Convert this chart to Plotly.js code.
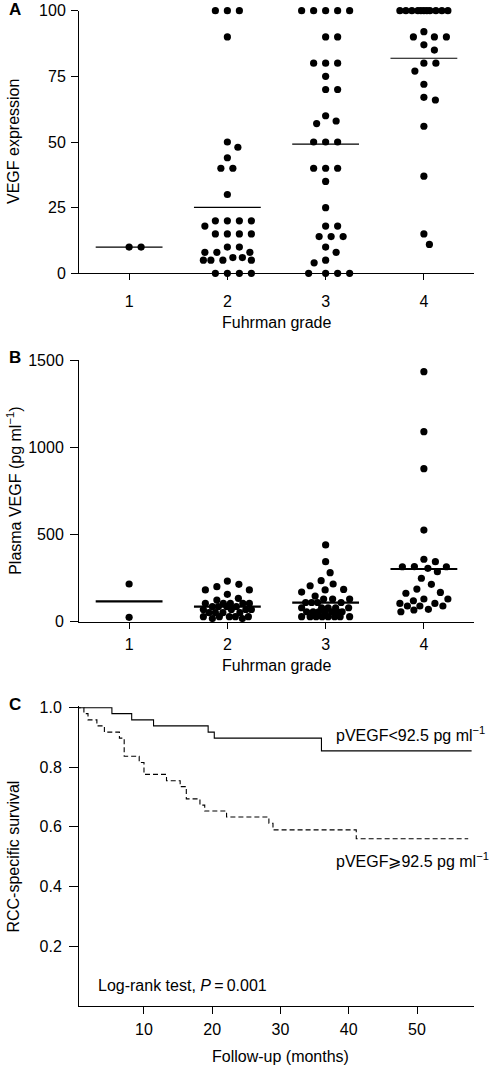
<!DOCTYPE html>
<html>
<head>
<meta charset="utf-8">
<script src="https://cdn.plot.ly/plotly-3.0.1.min.js"></script>
<style>html,body{margin:0;padding:0;background:#fff;}#chart{width:492px;height:1066px;}</style>
</head>
<body>
<div id="chart"></div>
<script>
// ---------- DATA ----------
const grades = [1, 2, 3, 4];
const gradeLabels = ['1', '2', '3', '4'];

// Panel A: tumour VEGF expression by Fuhrman grade
const vegfG1 = [10, 10];
const vegfG2 = [100, 100, 100, 90, 50, 48, 44, 40, 40, 30, 20, 20, 20, 20, 18, 15, 15, 15, 15, 10, 10, 8, 8, 8, 6, 6, 5, 5, 5, 5, 0, 0, 0, 0];
const vegfG3 = [100, 100, 100, 100, 100, 90, 90, 80, 80, 80, 75, 70, 70, 60, 58, 57, 50, 50, 50, 40, 40, 40, 35, 25, 18, 18, 14, 14, 14, 10, 8, 5, 4, 0, 0, 0, 0];
const vegfG4 = [100, 100, 100, 100, 100, 100, 100, 100, 100, 100, 100, 92, 90, 90, 90, 87, 85, 80, 80, 77, 72, 67, 66, 56, 37, 15, 11];
const vegfMeans = [10, 25.1, 49.2, 81.9];
const vegfTicks = [0, 25, 50, 75, 100];

// Panel B: plasma VEGF (pg/ml) by Fuhrman grade
const plasmaG1 = [216, 25];
const plasmaG2 = [233, 214, 201, 182, 182, 157, 134, 124, 105, 105, 105, 105, 105, 86, 86, 86, 86, 70, 70, 70, 70, 52, 52, 52, 52, 29, 29, 29, 29, 29, 18, 18];
const plasmaG3 = [440, 344, 281, 235, 216, 206, 185, 182, 170, 147, 130, 130, 130, 110, 110, 110, 110, 80, 80, 80, 80, 80, 57, 57, 57, 57, 57, 57, 57, 29, 29, 29, 29, 29, 29, 29, 29];
const plasmaG4 = [1433, 1089, 877, 525, 358, 344, 316, 315, 315, 306, 287, 249, 214, 187, 168, 163, 130, 130, 120, 105, 105, 90, 90, 90, 71, 67, 57];
const plasmaMeans = [117, 86, 109, 302];
const plasmaTicks = [0, 500, 1000, 1500];

// Panel C: Kaplan-Meier RCC-specific survival
const lowMonths  = [0, 5.3, 8.2, 11.4, 19.4, 20.3, 36.0, 58.0];
const lowSurv    = [1.0, 0.98, 0.959, 0.939, 0.918, 0.898, 0.855, 0.855];
const highMonths = [0, 1.2, 1.8, 3.1, 4.2, 6.4, 7.1, 9.3, 10.0, 13.3, 15.3, 16.2, 18.2, 18.9, 22.1, 28.3, 28.9, 41.1, 57.5];
const highSurv   = [1.0, 0.98, 0.959, 0.939, 0.918, 0.898, 0.837, 0.816, 0.776, 0.755, 0.735, 0.694, 0.673, 0.653, 0.633, 0.612, 0.59, 0.56, 0.56];
const survTicks = [0.2, 0.4, 0.6, 0.8, 1.0];
const survTickText = ['0.2', '0.4', '0.6', '0.8', '1.0'];
const monthTicks = [10, 20, 30, 40, 50];

// ---------- GEOMETRY ----------
const FW = 492, FH = 1066;
const px = p => p / FW;
const py = p => 1 - p / FH;
const plotL = 79, plotR = 474;
const xRange = [0.49, 4.51];
const aTop = 10.7, aBot = 273.3;
const bTop = 360, bBot = 621.7;
const cTop = 706.2, cBot = 1005.6;
const xPxPerUnit = (plotR - plotL) / (xRange[1] - xRange[0]);

// beeswarm: offsets (in category units) computed from values through the y scale
function swarm(vals, yPxPerUnit, d, Wmax) {
  const order = vals.map((v, i) => i).sort((a, b) => vals[b] - vals[a]);
  const cands = [0];
  for (let s = 0.5; s <= Wmax + 1e-9; s += 0.5) { cands.push(s, -s); }
  const placed = [];
  const off = new Array(vals.length);
  for (const i of order) {
    const y = vals[i] * yPxPerUnit;
    let best = 0, bestScore = -1;
    for (const c of cands) {
      let m = d;
      for (const p of placed) {
        const dd = Math.hypot(c - p.x, y - p.y);
        if (dd < m) m = dd;
      }
      if (m > bestScore + 1e-6) { bestScore = m; best = c; if (m >= d) break; }
    }
    placed.push({ x: best, y: y });
    off[i] = best / xPxPerUnit;
  }
  return off;
}

function dotTrace(groups, yPxPerUnit, xa, ya) {
  const xs = [], ys = [];
  groups.forEach((vals, gi) => {
    const off = swarm(vals, yPxPerUnit, 11.7, 24);
    vals.forEach((v, i) => { xs.push(grades[gi] + off[i]); ys.push(v); });
  });
  return { type: 'scatter', mode: 'markers', x: xs, y: ys, xaxis: xa, yaxis: ya,
    marker: { size: 7.2, color: '#000', line: { width: 0 } }, cliponaxis: false, hoverinfo: 'skip' };
}
function meanTrace(means, xa, ya, w) {
  const xs = [], ys = [];
  means.forEach((m, gi) => { xs.push(grades[gi] - 0.34, grades[gi] + 0.34, null); ys.push(m, m, null); });
  return { type: 'scatter', mode: 'lines', x: xs, y: ys, xaxis: xa, yaxis: ya,
    line: { color: '#000', width: w }, hoverinfo: 'skip', cliponaxis: false };
}

const aYScale = (aBot - aTop) / 100;
const bYScale = (bBot - bTop) / 1500;

const traces = [
  meanTrace(vegfMeans, 'x', 'y', 1.2),
  dotTrace([vegfG1, vegfG2, vegfG3, vegfG4], aYScale, 'x', 'y'),
  meanTrace(plasmaMeans, 'x2', 'y2', 2.2),
  dotTrace([plasmaG1, plasmaG2, plasmaG3, plasmaG4], bYScale, 'x2', 'y2'),
  { type: 'scatter', mode: 'lines', x: lowMonths, y: lowSurv, xaxis: 'x3', yaxis: 'y3',
    line: { shape: 'hv', color: '#000', width: 1.1 }, hoverinfo: 'skip' },
  { type: 'scatter', mode: 'lines', x: highMonths, y: highSurv, xaxis: 'x3', yaxis: 'y3',
    line: { shape: 'hv', color: '#000', width: 1.1, dash: '5px,3px' }, hoverinfo: 'skip' }
];

const FONT = 'Liberation Sans, Arial, Helvetica, sans-serif';
const FS = 16;
const baseAxis = {
  showline: true, linecolor: '#000', linewidth: 1, showgrid: false, zeroline: false,
  ticks: 'outside', tickcolor: '#000', tickwidth: 1, fixedrange: true,
  tickfont: { family: FONT, size: FS, color: '#000' }
};
const tf = { family: FONT, size: FS, color: '#000' };

const layout = {
  width: FW, height: FH, margin: { l: 0, r: 0, t: 0, b: 0 },
  paper_bgcolor: '#fff', plot_bgcolor: '#fff', showlegend: false,
  font: { family: FONT, size: FS, color: '#000' },
  xaxis: Object.assign({}, baseAxis, { domain: [px(plotL), px(plotR)], range: xRange, anchor: 'y',
    tickmode: 'array', tickvals: grades, ticktext: gradeLabels, ticklen: 6, ticklabelstandoff: 7 }),
  yaxis: Object.assign({}, baseAxis, { domain: [py(aBot), py(aTop)], range: [0, 100], anchor: 'x',
    tickmode: 'array', tickvals: vegfTicks, ticklen: 7, ticklabelstandoff: 2 }),
  xaxis2: Object.assign({}, baseAxis, { domain: [px(plotL), px(plotR)], range: xRange, anchor: 'y2',
    tickmode: 'array', tickvals: grades, ticktext: gradeLabels, ticklen: 6, ticklabelstandoff: 2 }),
  yaxis2: Object.assign({}, baseAxis, { domain: [py(bBot), py(bTop)], range: [0, 1500], anchor: 'x2',
    tickmode: 'array', tickvals: plasmaTicks, ticklen: 8, ticklabelstandoff: 3 }),
  xaxis3: Object.assign({}, baseAxis, { domain: [px(plotL), px(plotR)], range: [0.48, 58.35], anchor: 'y3',
    tickmode: 'array', tickvals: monthTicks, ticklen: 7, ticklabelstandoff: 2 }),
  yaxis3: Object.assign({}, baseAxis, { domain: [py(cBot), py(cTop)], range: [0, 1.005], anchor: 'x3',
    tickmode: 'array', tickvals: survTicks, ticktext: survTickText, ticklen: 9, ticklabelstandoff: 4 }),
  annotations: [
    // panel letters
    { text: '<b>A</b>', x: px(14.5), y: py(9.5), xref: 'paper', yref: 'paper', showarrow: false, xanchor: 'center', yanchor: 'middle', font: { family: FONT, size: 17 } },
    { text: '<b>B</b>', x: px(14.5), y: py(358), xref: 'paper', yref: 'paper', showarrow: false, xanchor: 'center', yanchor: 'middle', font: { family: FONT, size: 17 } },
    { text: '<b>C</b>', x: px(14.5), y: py(704), xref: 'paper', yref: 'paper', showarrow: false, xanchor: 'center', yanchor: 'middle', font: { family: FONT, size: 17 } },
    // axis titles
    { text: 'VEGF expression', textangle: -90, x: px(14), y: py((aTop + aBot) / 2), xref: 'paper', yref: 'paper', showarrow: false, xanchor: 'center', yanchor: 'middle', font: tf },
    { text: 'Fuhrman grade', x: px((plotL + plotR) / 2), y: py(322.7), xref: 'paper', yref: 'paper', showarrow: false, xanchor: 'center', yanchor: 'middle', font: tf },
    { text: 'Plasma VEGF (pg ml<sup>\u22121</sup>)', textangle: -90, x: px(14), y: py((bTop + bBot) / 2), xref: 'paper', yref: 'paper', showarrow: false, xanchor: 'center', yanchor: 'middle', font: tf },
    { text: 'Fuhrman grade', x: px((plotL + plotR) / 2), y: py(665), xref: 'paper', yref: 'paper', showarrow: false, xanchor: 'center', yanchor: 'middle', font: tf },
    { text: 'RCC-specific survival', textangle: -90, x: px(14), y: py(856.6), xref: 'paper', yref: 'paper', showarrow: false, xanchor: 'center', yanchor: 'middle', font: tf },
    { text: 'Follow-up (months)', x: px(280), y: py(1056.5), xref: 'paper', yref: 'paper', showarrow: false, xanchor: 'center', yanchor: 'middle', font: tf },
    // panel C texts
    { text: 'pVEGF<92.5 pg ml<sup>\u22121</sup>', x: px(334), y: py(734), xref: 'paper', yref: 'paper', showarrow: false, xanchor: 'left', yanchor: 'middle', font: tf },
    { text: 'pVEGF\u2A7E92.5 pg ml<sup>\u22121</sup>', x: px(334), y: py(860), xref: 'paper', yref: 'paper', showarrow: false, xanchor: 'left', yanchor: 'middle', font: tf },
    { text: 'Log-rank test, <i>P</i>\u2009=\u20090.001', x: px(96), y: py(985), xref: 'paper', yref: 'paper', showarrow: false, xanchor: 'left', yanchor: 'middle', font: tf }
  ]
};

Plotly.newPlot('chart', traces, layout, { displayModeBar: false, staticPlot: true });
</script>
</body>
</html>
